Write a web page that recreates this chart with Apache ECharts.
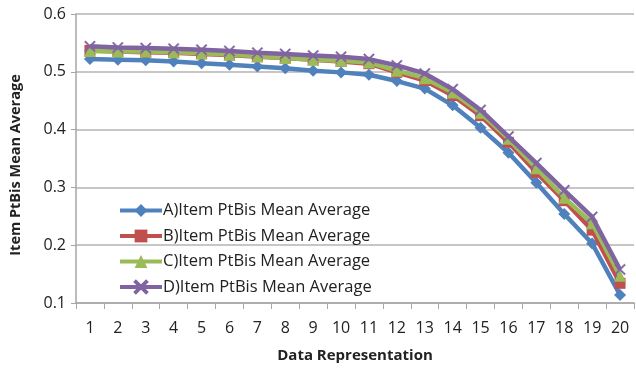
<!DOCTYPE html>
<html><head><meta charset="utf-8">
<script src="https://cdn.jsdelivr.net/npm/echarts@6/dist/echarts.min.js"></script>
<style>html,body{margin:0;padding:0;background:#fff}#c{width:636px;height:376px}</style>
</head><body><div id="c"></div>
<script>
const categories = ['1','2','3','4','5','6','7','8','9','10','11','12','13','14','15','16','17','18','19','20'];
const seriesNames = ['A)Item PtBis Mean Average','B)Item PtBis Mean Average','C)Item PtBis Mean Average','D)Item PtBis Mean Average'];
const seriesA = [0.522,0.521,0.520,0.518,0.515,0.512,0.509,0.506,0.502,0.499,0.495,0.484,0.471,0.442,0.403,0.360,0.308,0.254,0.203,0.114];
const seriesB = [0.537,0.535,0.534,0.533,0.531,0.529,0.526,0.524,0.521,0.518,0.514,0.499,0.485,0.459,0.424,0.378,0.326,0.277,0.226,0.134];
const seriesC = [0.536,0.535,0.535,0.534,0.532,0.530,0.527,0.524,0.521,0.519,0.516,0.502,0.489,0.464,0.429,0.384,0.333,0.282,0.238,0.147];
const seriesD = [0.544,0.542,0.541,0.540,0.538,0.536,0.533,0.531,0.528,0.526,0.522,0.511,0.497,0.470,0.434,0.388,0.342,0.295,0.249,0.158];
const yTicks = [0.1,0.2,0.3,0.4,0.5,0.6];

const colors = ['#4F81BD','#C0504D','#9BBB59','#8064A2'];
const crossPath = 'path://M1,0L5,4L9,0L10,1L6,5L10,9L9,10L5,6L1,10L0,9L4,5L0,1Z';
const symbols = ['diamond','rect','triangle',crossPath];
const symbolSizes = [12,11,12,11];
const dataSets = [seriesA,seriesB,seriesC,seriesD];
const font = '"Open Sans", "Liberation Sans", sans-serif';

const chart = echarts.init(document.getElementById('c'));
chart.setOption({
  animation:false,
  color: colors,
  grid:{left:72,right:2,top:14,bottom:73},
  legend:{
    orient:'vertical', left:113, top:197, itemGap:8.5, itemWidth:42, itemHeight:16,
    lineStyle:{width:4},
    textStyle:{fontFamily:font,fontSize:16.5,lineHeight:16,color:'#222',padding:[0,0,0,-4]},
    data: seriesNames
  },
  xAxis:{
    type:'category', data:categories, boundaryGap:true,
    name:'Data Representation', nameLocation:'middle', nameGap:45,
    nameTextStyle:{fontFamily:font,fontSize:15,fontWeight:'bold',color:'#222'},
    axisLine:{lineStyle:{color:'#a6a6a6',width:1.5}},
    axisTick:{show:true,alignWithLabel:false,length:6,lineStyle:{color:'#a6a6a6'}},
    axisLabel:{fontFamily:font,fontSize:16,color:'#222',margin:17,interval:0}
  },
  yAxis:{
    type:'value', min:0.1, max:0.6, interval:0.1,
    name:'Item PtBis Mean Average', nameLocation:'middle', nameGap:53,
    nameTextStyle:{fontFamily:font,fontSize:14.5,fontWeight:'bold',color:'#222',padding:[0,13,0,0]},
    axisLine:{show:true,lineStyle:{color:'#a6a6a6',width:1.5}},
    axisTick:{show:true,length:5,lineStyle:{color:'#a6a6a6'}},
    splitLine:{lineStyle:{color:'#b3b3b3',width:1.5}},
    axisLabel:{fontFamily:font,fontSize:16,color:'#222',margin:10,
      formatter:v=>{const t=yTicks.find(x=>Math.abs(x-v)<1e-6);return t===undefined?'':String(t);}}
  },
  series: dataSets.map((d,i)=>({
    name:seriesNames[i], type:'line', data:d,
    symbol:symbols[i], symbolSize:symbolSizes[i], showAllSymbol:true,
    lineStyle:{width:4.5,color:colors[i]},
    itemStyle:{color:colors[i], borderColor:colors[i], borderWidth: i===3?0.5:0},
    z: 2+i
  }))
});
</script></body></html>
